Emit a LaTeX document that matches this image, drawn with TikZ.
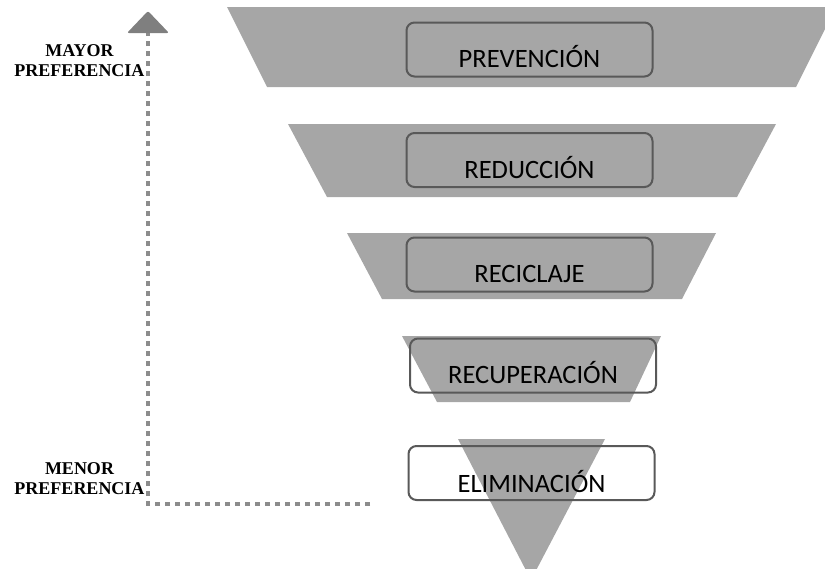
\documentclass[tikz,border=0pt]{standalone}
\usepackage{fontspec}
\setmainfont{Carlito}
\newfontfamily\serifb{Liberation Serif}
\definecolor{bandgray}{HTML}{A6A6A6}
\definecolor{boxgray}{HTML}{595959}
\definecolor{dotgray}{HTML}{8C8C8C}
\definecolor{headgray}{HTML}{7F7F7F}
\begin{document}
\begin{tikzpicture}[x=1pt,y=-1pt,
  band/.style={fill=bandgray, draw=none},
  stagebox/.style={draw=boxgray, line width=2pt, rounded corners=8pt,
    minimum width=246pt, minimum height=54pt, inner sep=0pt},
  stagetext/.style={font=\fontsize{26.5}{30}\selectfont, anchor=base, inner sep=0pt},
  preflabel/.style={font=\serifb\bfseries\fontsize{18}{20.5}\selectfont,
    align=center, anchor=south, inner sep=0pt},
  dots/.style={draw=dotgray, line width=3.5pt, dash pattern=on 5pt off 5pt}]
\useasboundingbox (0,0) rectangle (825,568);
\begin{scope}
\clip (0,0) rectangle (825,568);
\fill[band] (227,7) -- (836,7) -- (796,87) -- (267,87) -- cycle;
\fill[band] (288,124) -- (776,124) -- (737,197) -- (327,197) -- cycle;
\fill[band] (347,233) -- (716,233) -- (682,299) -- (382,299) -- cycle;
\fill[band] (402,336) -- (661,336) -- (630,402) -- (437,402) -- cycle;
\fill[band] (458,439) -- (605,439) -- (531,580) -- cycle;
\end{scope}
% boxes
\node[stagebox] (prev) at (529.5,49.5) {};
\node[stagebox] (redu) at (529.5,160) {};
\node[stagebox] (reci) at (529.5,264.5) {};
\node[stagebox] (recu) at (533,365.5) {};
\node[stagebox] (elim) at (531.5,473) {};
\node[stagetext] (tprev) at ([yshift=10pt]prev.south) {PREVENCIÓN};
\node[stagetext] (tredu) at ([yshift=10pt]redu.south) {REDUCCIÓN};
\node[stagetext] (treci) at ([yshift=10pt]reci.south) {RECICLAJE};
\node[stagetext] (trecu) at ([yshift=10pt]recu.south) {RECUPERACIÓN};
\node[stagetext] (telim) at ([yshift=9pt]elim.south) {ELIMINACIÓN};
% labels
\node[preflabel] (mayor) at (79.5,77) {MAYOR\\PREFERENCIA};
\node[preflabel] (menor) at (79.5,495) {MENOR\\PREFERENCIA};
% dotted axis
\coordinate (dotend) at (370,504);
\coordinate (corner) at (148,504);
\coordinate (dottop) at (148,33);
\draw[dots] (dotend) -- (corner) -- (dottop);
\fill[headgray, rounded corners=2pt] (127,33) -- (148,11) -- (169,33) -- cycle;
\end{tikzpicture}
\end{document}
